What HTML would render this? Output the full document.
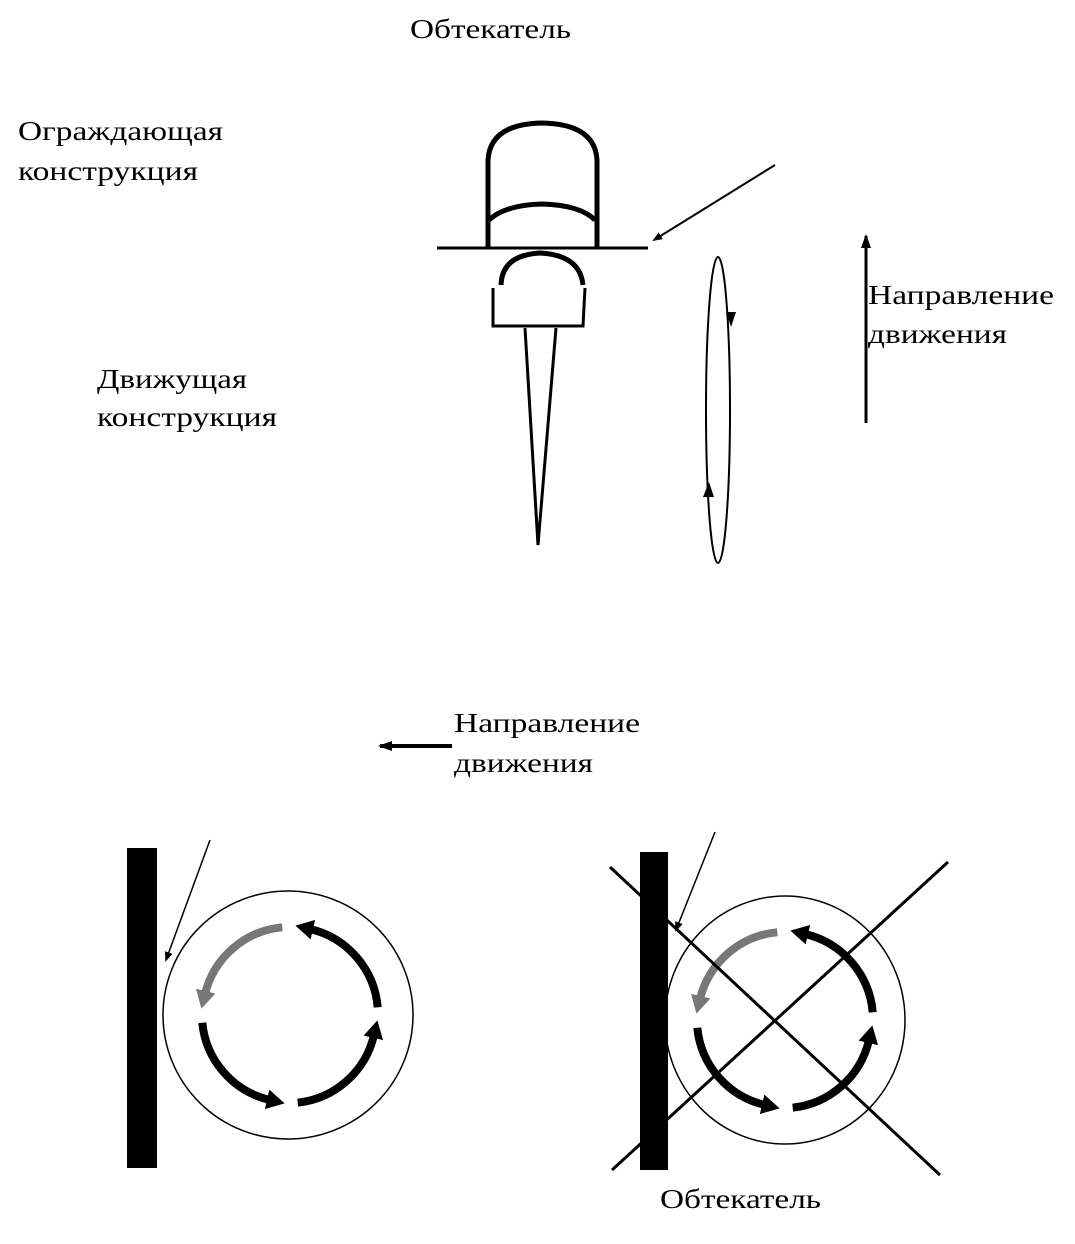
<!DOCTYPE html>
<html><head><meta charset="utf-8"><style>html,body{margin:0;padding:0;background:#fff}svg{display:block}</style></head>
<body>
<svg width="1075" height="1244" viewBox="0 0 1075 1244" xmlns="http://www.w3.org/2000/svg">
<defs>
<marker id="ab" markerWidth="18" markerHeight="20" refX="3" refY="10" orient="auto" markerUnits="userSpaceOnUse"><path d="M0,0 L18,10 L0,20 z" fill="#000"/></marker>
<marker id="ag" markerWidth="18" markerHeight="20" refX="3" refY="10" orient="auto" markerUnits="userSpaceOnUse"><path d="M0,0 L18,10 L0,20 z" fill="#777"/></marker>
<marker id="at" markerWidth="10" markerHeight="8" refX="8" refY="4" orient="auto" markerUnits="userSpaceOnUse"><path d="M0,0 L10,4 L0,8 z" fill="#000"/></marker>
<marker id="am" markerWidth="14" markerHeight="10" refX="12" refY="5" orient="auto" markerUnits="userSpaceOnUse"><path d="M0,0 L14,5 L0,10 z" fill="#000"/></marker>
</defs>
<g font-family="'Liberation Serif', serif" font-size="27" fill="#000">
<text x="410" y="38" textLength="161" lengthAdjust="spacingAndGlyphs">Обтекатель</text>
<text x="18" y="140" textLength="205" lengthAdjust="spacingAndGlyphs">Ограждающая</text>
<text x="18" y="180" textLength="180" lengthAdjust="spacingAndGlyphs">конструкция</text>
<text x="868" y="304" textLength="186" lengthAdjust="spacingAndGlyphs">Направление</text>
<text x="868" y="343" textLength="139" lengthAdjust="spacingAndGlyphs">движения</text>
<text x="97" y="388" textLength="150" lengthAdjust="spacingAndGlyphs">Движущая</text>
<text x="97" y="426" textLength="180" lengthAdjust="spacingAndGlyphs">конструкция</text>
<text x="454" y="732" textLength="186" lengthAdjust="spacingAndGlyphs">Направление</text>
<text x="454" y="772" textLength="139" lengthAdjust="spacingAndGlyphs">движения</text>
<text x="660" y="1208" textLength="161" lengthAdjust="spacingAndGlyphs">Обтекатель</text>
</g>
<g fill="none" stroke="#000">
<path d="M488,247 L488,160 Q490,124 542,123 Q595,124 597,160 L597,247" stroke-width="5"/>
<path d="M489,220 Q505,205 542,204 Q580,205 595,220" stroke-width="5"/>
<line x1="437" y1="248" x2="648" y2="248" stroke-width="3"/>
<path d="M501,285 Q502,255 540,253 Q580,255 583,285" stroke-width="5"/>
<path d="M493,288 L493,326 L583,326 L585,288" stroke-width="3"/>
<path d="M525,328 L538,545 L556,328" stroke-width="3"/>
<line x1="775" y1="165" x2="654" y2="240" stroke-width="2" marker-end="url(#at)"/>
<ellipse cx="718" cy="410" rx="12" ry="153" stroke-width="2"/>
<path d="M726,312 L736,312 L731,327 z" fill="#000" stroke="none"/>
<path d="M703,497 L714,497 L709,482 z" fill="#000" stroke="none"/>
<line x1="866" y1="423" x2="866" y2="236" stroke-width="3" marker-end="url(#am)"/>
<line x1="452" y1="746" x2="380" y2="746" stroke-width="4" marker-end="url(#am)"/>
<rect x="127" y="848" width="30" height="320" fill="#000" stroke="none"/>
<ellipse cx="288" cy="1015" rx="125" ry="124" stroke-width="1.5"/>
<line x1="210" y1="840" x2="166" y2="960" stroke-width="1.5" marker-end="url(#at)"/>
<g stroke-width="8">
<path d="M297.7,1102.7 A88,88 0 0 0 374,1035" marker-end="url(#ab)"/>
<path d="M377.7,1007.3 A88,88 0 0 0 310,929" marker-end="url(#ab)"/>
<path d="M282.3,927.3 A88,88 0 0 0 205,994" stroke="#777" marker-end="url(#ag)"/>
<path d="M202.3,1022.7 A88,88 0 0 0 270,1100" marker-end="url(#ab)"/>
</g>
<rect x="640" y="852" width="28" height="318" fill="#000" stroke="none"/>
<ellipse cx="785" cy="1020" rx="120" ry="124" stroke-width="1.5"/>
<line x1="715" y1="832" x2="676" y2="930" stroke-width="1.5" marker-end="url(#at)"/>
<g transform="translate(495,5)" stroke-width="8">
<path d="M297.7,1102.7 A88,88 0 0 0 374,1035" marker-end="url(#ab)"/>
<path d="M377.7,1007.3 A88,88 0 0 0 310,929" marker-end="url(#ab)"/>
<path d="M282.3,927.3 A88,88 0 0 0 205,994" stroke="#777" marker-end="url(#ag)"/>
<path d="M202.3,1022.7 A88,88 0 0 0 270,1100" marker-end="url(#ab)"/>
</g>
<line x1="610" y1="867" x2="940" y2="1175" stroke-width="3"/>
<line x1="948" y1="862" x2="612" y2="1170" stroke-width="3"/>
</g>
</svg>
</body></html>
